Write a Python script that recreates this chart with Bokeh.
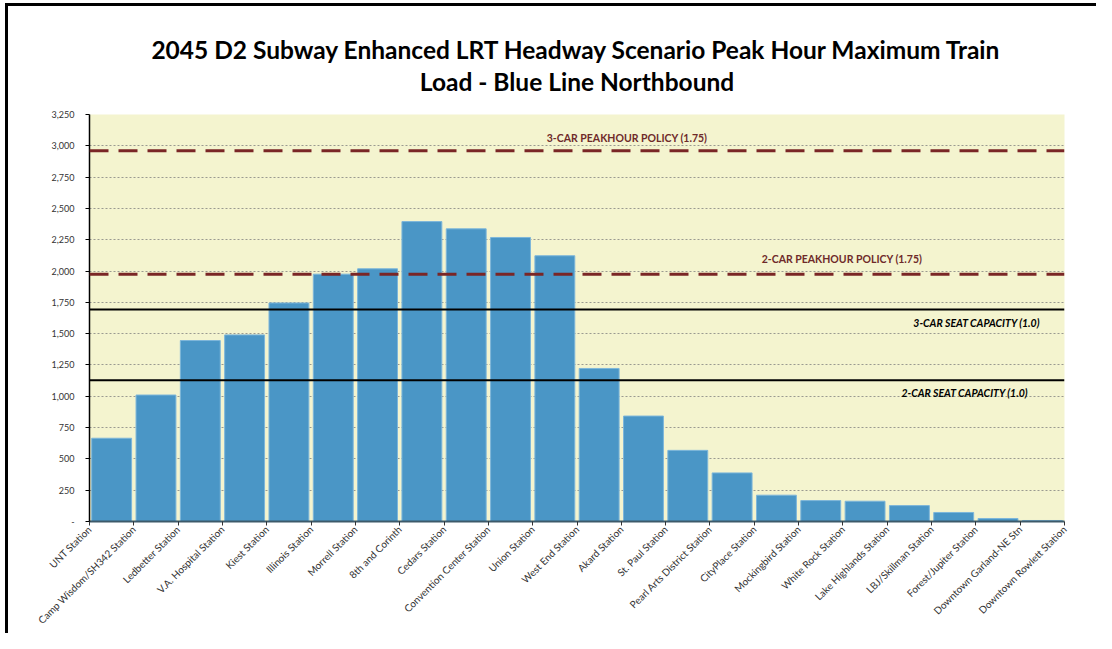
from bokeh.plotting import figure
from bokeh.layouts import column
from bokeh.models import FixedTicker, NumeralTickFormatter, Span, Label, Title
from bokeh.embed import file_html
from bokeh.resources import INLINE

stations = ["UNT Station", "Camp Wisdom/SH342 Station", "Ledbetter Station", "V.A. Hospital Station",
            "Kiest Station", "Illinois Station", "Morrell Station", "8th and Corinth", "Cedars Station",
            "Convention Center Station", "Union Station", "West End Station", "Akard Station",
            "St. Paul Station", "Pearl Arts District Station", "CityPlace Station", "Mockingbird Station",
            "White Rock Station", "Lake Highlands Station", "LBJ/Skillman Station", "Forest/Jupiter Station",
            "Downtown Garland-NE Stn", "Downtown Rowlett Station"]
# load on each segment between consecutive stations
loads = [665, 1010, 1445, 1490, 1745, 1975, 2018, 2395, 2337, 2268, 2122, 1222,
         842, 568, 388, 210, 167, 162, 127, 72, 24, 8]
seat_2car = 1128
seat_3car = 1692
peak_2car = 1974
peak_3car = 2961
y_ticks = list(range(0, 3251, 250))
title_lines = ["2045 D2 Subway Enhanced LRT Headway Scenario Peak Hour Maximum Train",
               "Load - Blue Line Northbound"]

xs = [i + 0.5 for i in range(len(loads))]

p = figure(width=1088, height=627, output_backend="svg", toolbar_location=None,
           x_range=(0, len(stations) - 1), y_range=(0, 3250),
           min_border_left=81, min_border_right=32, min_border_top=108, min_border_bottom=111)
p.background_fill_color = "#F4F4CF"
p.border_fill_color = "white"
p.outline_line_color = None

tkw = dict(align="center", text_font="Lato", text_font_size="24.5px", text_font_style="bold",
           text_color="black")
p.add_layout(Title(text=title_lines[1], standoff=38, **tkw), "above")
p.add_layout(Title(text=title_lines[0], standoff=-36, **tkw), "above")

p.xgrid.visible = False
p.ygrid.ticker = FixedTicker(ticks=y_ticks)
p.ygrid.grid_line_color = "#9A9A90"
p.ygrid.grid_line_dash = "2 2"
p.ygrid.grid_line_width = 1

p.vbar(x=xs, top=loads, width=0.9, fill_color="#4A96C6", line_color="#7DB6DA", line_width=1)

p.add_layout(Span(location=seat_2car, dimension="width", line_color="black", line_width=2))
p.add_layout(Span(location=seat_3car, dimension="width", line_color="black", line_width=2))
p.add_layout(Span(location=peak_2car, dimension="width", line_color="#7A2626", line_width=3, line_dash="19 10"))
p.add_layout(Span(location=peak_3car, dimension="width", line_color="#7A2626", line_width=3, line_dash="19 10"))

lab_kw = dict(text_font="Lato", text_font_size="10.5px", text_align="center", text_baseline="middle",
              text_font_style="bold")
p.add_layout(Label(x=12.13, y=peak_3car, y_offset=13, text="3-CAR PEAKHOUR POLICY (1.75)",
                   text_color="#6E2A2A", **lab_kw))
p.add_layout(Label(x=16.98, y=peak_2car, y_offset=15, text="2-CAR PEAKHOUR POLICY (1.75)",
                   text_color="#6E2A2A", **lab_kw))
lab_kw2 = dict(lab_kw)
lab_kw2["text_font_style"] = "bold italic"
p.add_layout(Label(x=20.02, y=seat_3car, y_offset=-13, text="3-CAR SEAT CAPACITY (1.0)",
                   text_color="black", **lab_kw2))
p.add_layout(Label(x=19.75, y=seat_2car, y_offset=-13, text="2-CAR SEAT CAPACITY (1.0)",
                   text_color="black", **lab_kw2))

# axes
p.yaxis.ticker = FixedTicker(ticks=y_ticks)
p.yaxis.formatter = NumeralTickFormatter(format="0,0")
p.yaxis.major_label_overrides = {0: "-"}
p.yaxis.major_label_text_font = "Lato"
p.yaxis.major_label_text_font_size = "9px"
p.yaxis.major_label_text_color = "#333333"
p.yaxis.axis_line_color = "black"
p.yaxis.axis_line_width = 1.5
p.yaxis.major_tick_out = 4
p.yaxis.major_tick_in = 0
p.yaxis.minor_tick_line_color = None
p.yaxis.major_label_standoff = 11

p.xaxis.ticker = FixedTicker(ticks=list(range(len(stations))))
p.xaxis.major_label_overrides = {i: s for i, s in enumerate(stations)}
p.xaxis.major_label_orientation = 0.785398
p.xaxis.major_label_text_font = "Lato"
p.xaxis.major_label_text_font_size = "10px"
p.xaxis.major_label_text_color = "#333333"
p.xaxis.axis_line_color = "#3D5A6A"
p.xaxis.axis_line_width = 2
p.xaxis.major_tick_out = 4
p.xaxis.major_tick_in = 0
p.xaxis.major_tick_line_color = "#333333"
p.xaxis.minor_tick_line_color = None
p.xaxis.major_label_standoff = 2

lay = column(p, styles={"border-left": "3px solid black", "border-top": "3px solid black",
                        "margin-left": "5px", "margin-top": "3px"})

open("out.html", "w").write(file_html(lay, INLINE))
